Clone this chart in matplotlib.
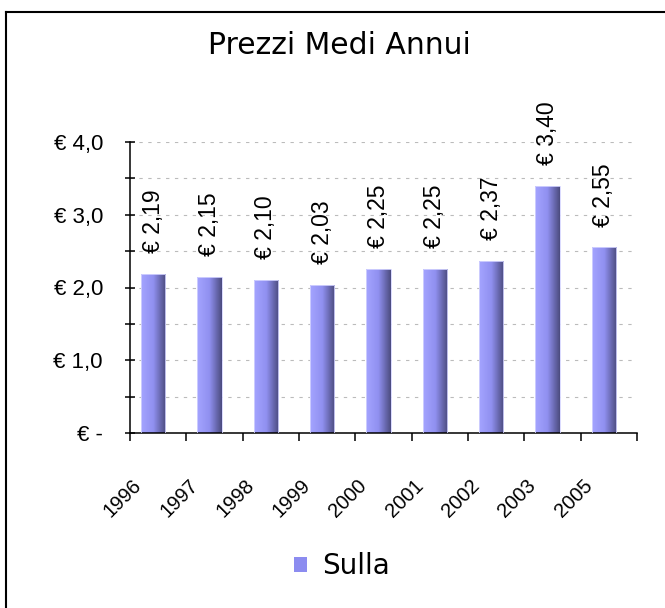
import numpy as np
import matplotlib
matplotlib.use("Agg")
import matplotlib.pyplot as plt
from matplotlib.colors import LinearSegmentedColormap
from matplotlib.patches import Patch
from matplotlib.lines import Line2D

# data
years = ["1996", "1997", "1998", "1999", "2000", "2001", "2002", "2003", "2005"]
prices = [2.19, 2.15, 2.10, 2.03, 2.25, 2.25, 2.37, 3.40, 2.55]
y_ticks = [0, 1, 2, 3, 4]
y_labels = ["€ -", "€ 1,0", "€ 2,0", "€ 3,0", "€ 4,0"]

fig = plt.figure(figsize=(6.65, 6.08), dpi=100)
ax = fig.add_axes([130 / 665, 1 - 433 / 608, 507 / 665, 291 / 608])

x = np.arange(len(years))
bars = ax.bar(x - 0.09, prices, width=0.43, color="none", edgecolor="#d4d4ff", linewidth=0.6, zorder=3)

# horizontal gradient inside each bar
cmap = LinearSegmentedColormap.from_list("bar", ["#a4a4ff", "#9090f0", "#4c4c80"])
grad = np.linspace(0, 1, 64).reshape(1, -1)
for b in bars:
    x0, w, h = b.get_x(), b.get_width(), b.get_height()
    im = ax.imshow(grad, cmap=cmap, extent=[x0, x0 + w, 0, h], aspect="auto", zorder=2)
    im.set_clip_path(b)

# value labels
for xi, v in zip(x, prices):
    ax.annotate("€ " + f"{v:.2f}".replace(".", ","), (xi - 0.09, v), xytext=(0, 15),
                textcoords="offset points", rotation=90, ha="center", va="bottom",
                fontsize=16.5, family="Liberation Sans", annotation_clip=False)

ax.set_xlim(-0.5, len(years) - 0.5)
ax.set_ylim(0, 4)

for s in ["top", "right"]:
    ax.spines[s].set_visible(False)
for s in ["left", "bottom"]:
    ax.spines[s].set_linewidth(1.1)

ax.set_yticks(y_ticks)
ax.set_yticklabels(y_labels, fontsize=16, family="Liberation Sans")
ax.set_yticks(np.arange(0.5, 4, 1), minor=True)
ax.tick_params(axis="y", which="both", direction="inout", length=7, width=1.1, pad=16)

# year labels, rotated and set a bit left of the bar centre
ax.set_xticks(x)
ax.set_xticklabels([])
ax.set_xticks(np.arange(-0.5, len(years)), minor=True)
ax.tick_params(axis="x", which="major", length=0)
ax.tick_params(axis="x", which="minor", direction="out", length=6, width=1.1)
for xi, yr in zip(x, years):
    ax.annotate(yr, (xi, 0), xytext=(-19, -31), textcoords="offset points",
                rotation=45, ha="right", va="top", rotation_mode="anchor",
                fontsize=14.5, family="Liberation Sans", annotation_clip=False)

ax.yaxis.grid(True, which="both", color="#bbbbbb", linestyle=(0, (3, 5)), linewidth=0.8, zorder=0)
ax.set_axisbelow(True)

fig.text(339 / 665, 1 - 46 / 608, "Prezzi Medi Annui", ha="center", va="center",
         fontsize=21.5, family="DejaVu Sans")

fig.legend(handles=[Patch(facecolor="#8c8cf0", edgecolor="none", label="Sulla")],
           loc="center", bbox_to_anchor=(342 / 665, 1 - 566 / 608), frameon=False,
           prop={"family": "DejaVu Sans", "size": 20},
           handlelength=0.45, handleheight=0.45, handletextpad=0.55)

# border on left and top
fig.add_artist(Line2D([6 / 665, 6 / 665], [0, 1 - 12 / 608], color="black", lw=1.5))
fig.add_artist(Line2D([6 / 665, 1], [1 - 12 / 608, 1 - 12 / 608], color="black", lw=1.5))

fig.savefig("out.png", dpi=100)
